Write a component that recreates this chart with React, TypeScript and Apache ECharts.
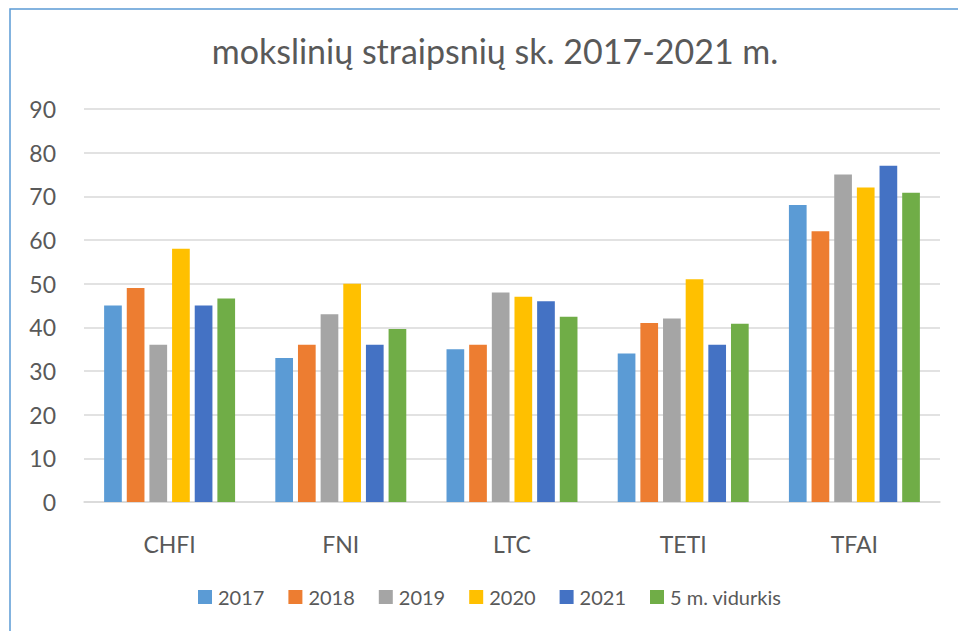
import React, { useEffect, useRef } from "react";
import * as echarts from "echarts";

const categories = ["CHFI", "FNI", "LTC", "TETI", "TFAI"];
const seriesNames = ["2017", "2018", "2019", "2020", "2021", "5 m. vidurkis"];
const v2017 = [45, 33, 35, 34, 68];
const v2018 = [49, 36, 36, 41, 62];
const v2019 = [36, 43, 48, 42, 75];
const v2020 = [58, 50, 47, 51, 72];
const v2021 = [45, 36, 46, 36, 77];
const vAvg = [46.6, 39.6, 42.4, 40.8, 70.8];
const colors = ["#5B9BD5", "#ED7D31", "#A5A5A5", "#FFC000", "#4472C4", "#70AD47"];
const titleText = "mokslinių straipsnių sk. 2017-2021 m.";

const FONT = "Lato, 'Open Sans', sans-serif";

export default function App() {
  const ref = useRef<HTMLDivElement>(null);
  useEffect(() => {
    if (!ref.current) return;
    const chart = echarts.init(ref.current, undefined, { renderer: "svg" });
    const values = [v2017, v2018, v2019, v2020, v2021, vAvg];
    chart.setOption({
      animation: false,
      textStyle: { fontFamily: FONT },
      title: {
        text: titleText,
        left: 490,
        textAlign: "center",
        top: 28,
        textStyle: { fontSize: 34, fontWeight: "normal", color: "#595959", fontFamily: FONT },
      },
      graphic: [
        {
          type: "rect",
          shape: { x: 10, y: 9, width: 1200, height: 900 },
          style: { fill: "none", stroke: "#5B9BD5", lineWidth: 1.5 },
          silent: true,
        },
      ],
      legend: {
        data: seriesNames,
        left: 193,
        top: 582,
        width: 740,
        itemWidth: 14,
        itemHeight: 14,
        itemGap: 24,
        icon: "rect",
        textStyle: { fontSize: 20, color: "#595959", fontFamily: FONT, padding: [0, 0, 0, 1] },
      },
      grid: { left: 84, right: 18, top: 109, bottom: 129, containLabel: false },
      xAxis: {
        type: "category",
        data: categories,
        axisLine: { lineStyle: { color: "#D9D9D9", width: 1.5 } },
        axisTick: { show: false },
        axisLabel: { fontSize: 23, color: "#595959", margin: 30, fontFamily: FONT },
      },
      yAxis: {
        type: "value",
        min: 0,
        max: 90,
        interval: 10,
        axisLine: { show: false },
        axisTick: { show: false },
        axisLabel: { fontSize: 23, color: "#595959", margin: 28, fontFamily: FONT },
        splitLine: { lineStyle: { color: "#D9D9D9", width: 1.5 } },
      },
      series: seriesNames.map((name, i) => ({
        name,
        type: "bar",
        data: values[i],
        itemStyle: { color: colors[i] },
        barGap: "28%",
        barCategoryGap: "23.5%",
      })),
    });
    return () => chart.dispose();
  }, []);
  return <div ref={ref} style={{ width: 958, height: 631, position: "absolute", left: 0, top: 0 }} />;
}
